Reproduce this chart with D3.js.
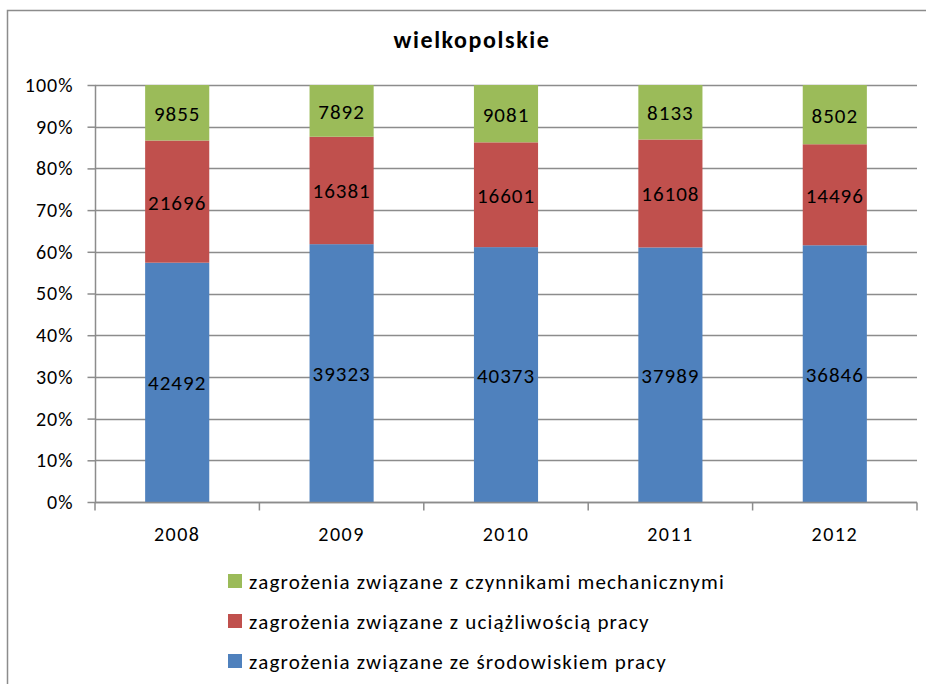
<!DOCTYPE html>
<html>
<head>
<meta charset="utf-8">
<script src="https://cdn.jsdelivr.net/npm/d3@7"></script>
<style>
  body { margin: 0; background: #fff; }
  svg { display: block; font-family: Calibri, Carlito, Lato, "Open Sans", sans-serif; }
</style>
</head>
<body>
<svg id="chart" width="926" height="684"></svg>
<script>
const years = ['2008', '2009', '2010', '2011', '2012']
const srodowisko = [42492, 39323, 40373, 37989, 36846]
const uciazliwosc = [21696, 16381, 16601, 16108, 14496]
const mechaniczne = [9855, 7892, 9081, 8133, 8502]
const seriesNames = [
    'zagrożenia związane ze środowiskiem pracy',
    'zagrożenia związane z uciążliwością pracy',
    'zagrożenia związane z czynnikami mechanicznymi'
]
const colors = ['#4f81bd', '#c0504d', '#9bbb59']
const yTicks = [0, 0.1, 0.2, 0.3, 0.4, 0.5, 0.6, 0.7, 0.8, 0.9, 1]

const svg = d3.select('#chart')

// chart frame
svg.append('rect')
    .attr('x', 7.5).attr('y', 10.5)
    .attr('width', 940).attr('height', 700)
    .attr('fill', 'none').attr('stroke', '#8c8c8c').attr('stroke-width', 1.5)

svg.append('text')
    .attr('x', 472).attr('y', 48)
    .attr('text-anchor', 'middle')
    .style('font-size', '24px').style('font-weight', 'bold')
    .style('letter-spacing', '1.6px')
    .attr('fill', '#000')
    .text('wielkopolskie')

const plotLeft = 95, plotRight = 917, plotTop = 85, plotBottom = 502

const x = d3.scaleBand().domain(years).range([plotLeft, plotRight]).paddingInner(0.61).paddingOuter(0.305)
const xCat = d3.scaleBand().domain(years).range([plotLeft, plotRight])
const y = d3.scaleLinear().domain([0, 1]).range([plotBottom, plotTop])

// gridlines
svg.append('g')
    .selectAll('line')
    .data(yTicks)
    .enter().append('line')
    .attr('x1', plotLeft).attr('x2', plotRight)
    .attr('y1', d => Math.round(y(d)) + 0.5).attr('y2', d => Math.round(y(d)) + 0.5)
    .attr('stroke', '#8c8c8c').attr('stroke-width', 1.5)

// stacked data
const table = years.map((yr, i) => ({
    year: yr, s0: srodowisko[i], s1: uciazliwosc[i], s2: mechaniczne[i]
}))
const stack = d3.stack().keys(['s0', 's1', 's2']).offset(d3.stackOffsetExpand)
const layers = stack(table)

const groups = svg.append('g').selectAll('g.layer')
    .data(layers)
    .enter().append('g')
    .attr('class', 'layer')
    .attr('fill', (d, i) => colors[i])

groups.selectAll('rect')
    .data(d => d)
    .enter().append('rect')
    .attr('x', d => x(d.data.year))
    .attr('width', x.bandwidth())
    .attr('y', d => y(d[1]))
    .attr('height', d => y(d[0]) - y(d[1]))

groups.selectAll('text')
    .data((d, i) => d.map(v => ({ v: v, key: d.key })))
    .enter().append('text')
    .attr('x', d => x(d.v.data.year) + x.bandwidth() / 2)
    .attr('y', d => (y(d.v[0]) + y(d.v[1])) / 2 + 8)
    .attr('text-anchor', 'middle')
    .attr('fill', '#000')
    .style('font-size', '21px')
    .style('letter-spacing', '1px')
    .text(d => d.v.data[d.key])

// y axis
const yAxis = d3.axisLeft(y).tickValues(yTicks).tickFormat(d3.format('.0%')).tickSize(8).tickPadding(14)
const gy = svg.append('g').attr('transform', `translate(${plotLeft + 0.5},0)`).call(yAxis)
gy.attr('font-family', null)
gy.select('.domain').attr('stroke', '#8c8c8c').attr('stroke-width', 1.5).attr('d', `M0,${plotTop}V${plotBottom}`)
gy.selectAll('.tick line').attr('stroke', '#8c8c8c').attr('stroke-width', 1.5)
gy.selectAll('.tick text').style('font-size', '20px').style('letter-spacing', '1px').attr('fill', '#000')

// x axis
const gx = svg.append('g').attr('transform', `translate(0,${plotBottom + 0.5})`)
gx.append('line').attr('x1', plotLeft).attr('x2', plotRight).attr('stroke', '#8c8c8c').attr('stroke-width', 1.5)
gx.selectAll('line.tk')
    .data(years.concat(['end']))
    .enter().append('line')
    .attr('class', 'tk')
    .attr('x1', (d, i) => plotLeft + i * xCat.bandwidth()).attr('x2', (d, i) => plotLeft + i * xCat.bandwidth())
    .attr('y1', 0).attr('y2', 8)
    .attr('stroke', '#8c8c8c').attr('stroke-width', 1.5)
gx.selectAll('text')
    .data(years)
    .enter().append('text')
    .attr('x', d => xCat(d) + xCat.bandwidth() / 2)
    .attr('y', 38)
    .attr('text-anchor', 'middle')
    .style('font-size', '20px')
    .style('letter-spacing', '1.5px')
    .text(d => d)

// legend (reversed order)
const legend = svg.append('g').selectAll('g')
    .data([2, 1, 0])
    .enter().append('g')
    .attr('transform', (d, i) => `translate(228,${574 + i * 40})`)
legend.append('rect')
    .attr('width', 14).attr('height', 14)
    .attr('fill', d => colors[d])
legend.append('text')
    .attr('x', 21).attr('y', 15)
    .style('font-size', '21px')
    .style('letter-spacing', '1.2px')
    .text(d => seriesNames[d])
</script>
</body>
</html>
